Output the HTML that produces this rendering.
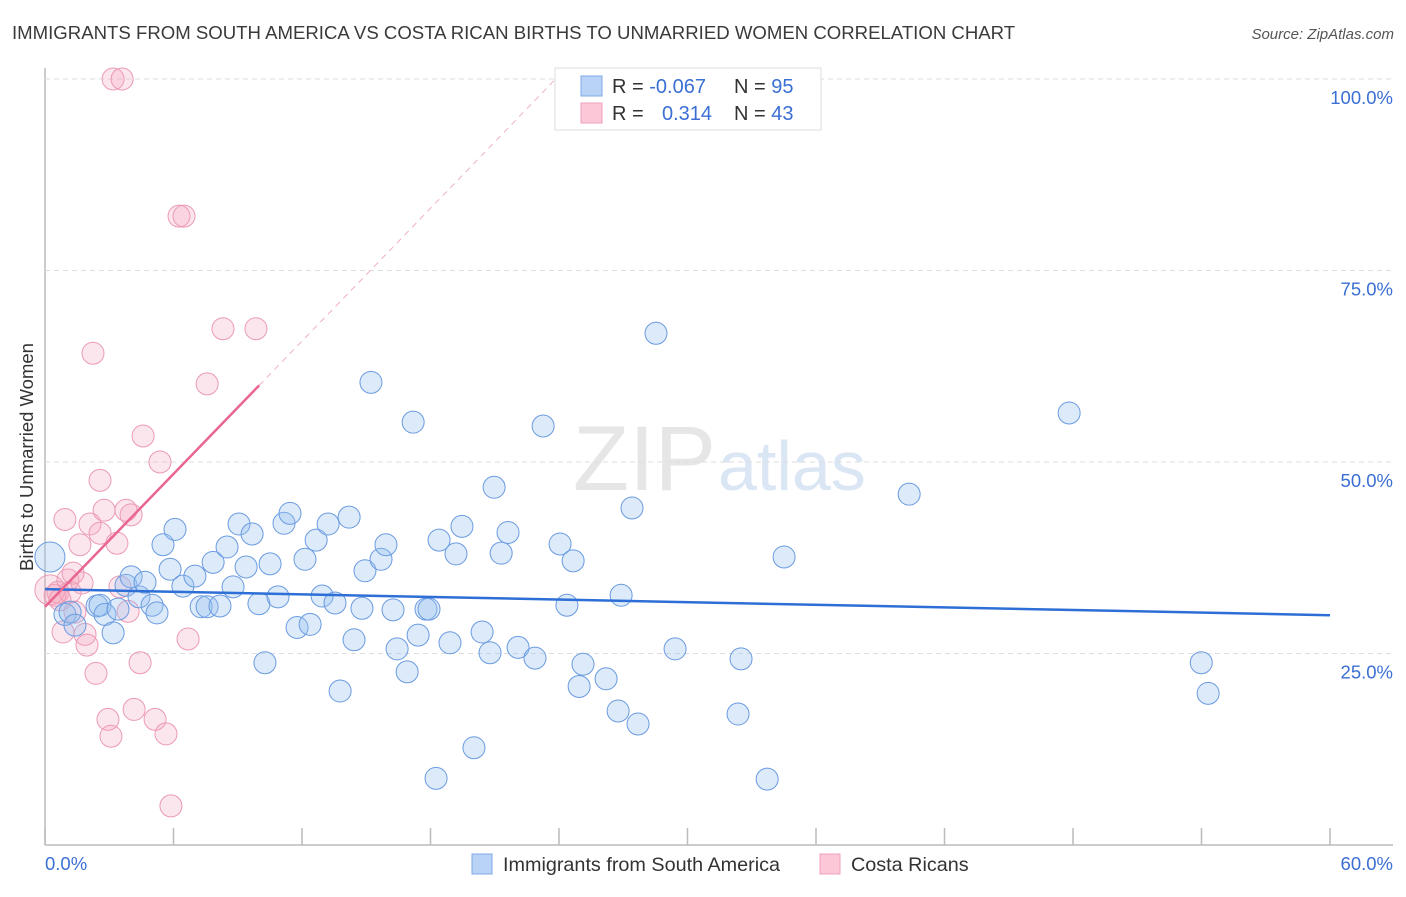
<!DOCTYPE html>
<html><head><meta charset="utf-8"><style>
body{margin:0;background:#fff;font-family:"Liberation Sans",sans-serif}
svg text{font-family:"Liberation Sans",sans-serif}
</style></head><body>
<svg id="c" width="1406" height="892">
<text x="12" y="39" font-size="18.6" fill="#3a3a3a">IMMIGRANTS FROM SOUTH AMERICA VS COSTA RICAN BIRTHS TO UNMARRIED WOMEN CORRELATION CHART</text>
<text x="1394" y="39" font-size="15" fill="#555" font-style="italic" text-anchor="end">Source: ZipAtlas.com</text>
<text x="33" y="457" font-size="18.5" fill="#333" text-anchor="middle" transform="rotate(-90 33 457)">Births to Unmarried Women</text>
<text x="716" y="490" font-size="92" fill="#e6e6e6" text-anchor="end" font-family="Liberation Serif">ZIP</text>
<text x="718" y="490" font-size="70" fill="#dbe6f5">atlas</text>
<g id="grid"></g><g id="pts"></g><g id="lines"></g>
<g>
<rect x="555" y="68" width="266" height="62" fill="#fff" stroke="#ddd"/>
<rect x="581" y="76" width="21" height="20" fill="#b8d3f5" stroke="#7fa9e6"/>
<rect x="581" y="103" width="21" height="20" fill="#fcc8d8" stroke="#f0a0bb"/>
<text x="612" y="93" font-size="20" fill="#333">R = <tspan fill="#3b6fd4">-0.067</tspan></text>
<text x="734" y="93" font-size="20" fill="#333">N = <tspan fill="#3b6fd4">95</tspan></text>
<text x="612" y="120" font-size="20" fill="#333">R = </text>
<text x="662" y="120" font-size="20" fill="#3b6fd4">0.314</text>
<text x="734" y="120" font-size="20" fill="#333">N = <tspan fill="#3b6fd4">43</tspan></text>
</g>
<g>
<rect x="472" y="854" width="20" height="20" fill="#b8d3f5" stroke="#7fa9e6"/>
<text x="503" y="871" font-size="19.8" fill="#333">Immigrants from South America</text>
<rect x="820" y="854" width="20" height="20" fill="#fcc8d8" stroke="#f0a0bb"/>
<text x="851" y="871" font-size="19.8" fill="#333">Costa Ricans</text>
</g>
</svg>
<script>
const xTicks=[0,6,12,18,24,30,36,42,48,54,60];
const yTicks=[25,50,75,100];
const yTickLabels=["25.0%","50.0%","75.0%","100.0%"];
const xEndLabels=["0.0%","60.0%"];
const blueX=[0.23,0.93,1.17,1.40,2.43,2.57,2.80,3.18,3.41,3.78,4.02,4.39,4.67,5.00,5.23,5.51,5.84,6.07,6.44,7.00,7.29,7.57,7.85,8.17,8.50,8.78,9.06,9.39,9.67,9.99,10.27,10.51,10.88,11.16,11.44,11.77,12.14,12.38,12.66,12.94,13.22,13.54,13.78,14.20,14.43,14.80,14.94,15.22,15.69,15.92,16.25,16.44,16.91,17.19,17.42,17.79,17.93,18.26,18.40,18.91,19.19,19.47,20.03,20.41,20.78,20.97,21.30,21.62,22.09,22.88,23.26,24.05,24.37,24.66,24.94,25.12,26.20,26.76,26.90,27.41,27.69,28.53,29.42,32.36,32.50,33.72,34.51,40.35,47.82,53.99,54.31];
const blueY=[37.6,30.1,30.4,28.7,31.2,31.3,30.1,27.7,30.8,33.9,35.0,32.4,34.3,31.3,30.3,39.2,36.0,41.2,33.8,35.1,31.1,31.1,36.9,31.2,38.9,33.7,41.9,36.3,40.6,31.5,23.8,36.7,32.4,42.0,43.3,28.4,37.3,28.8,39.8,32.5,41.9,31.6,20.1,42.8,26.8,30.9,35.8,60.4,37.3,39.2,30.7,25.6,22.6,55.2,27.4,30.8,30.8,8.7,39.8,26.4,38.0,41.6,12.7,27.8,25.1,46.7,38.1,40.8,25.8,24.4,54.7,39.3,31.3,37.1,20.7,23.6,21.7,17.5,32.6,44.0,15.8,66.8,25.6,17.1,24.3,8.6,37.6,45.8,56.4,23.8,19.8];
const pinkX=[0.23,0.47,0.61,0.70,0.84,0.93,1.07,1.17,1.31,1.40,1.63,1.73,1.87,1.96,2.10,2.24,2.38,2.57,2.57,2.76,2.94,3.08,3.18,3.36,3.50,3.60,3.78,3.88,4.02,4.16,4.44,4.58,5.14,5.37,5.65,5.88,6.26,6.49,6.68,7.57,8.31,9.85];
const pinkY=[33.3,32.6,33.0,32.0,27.8,42.5,34.6,33.0,35.5,30.4,39.2,34.2,27.5,26.1,41.9,64.2,22.4,40.7,47.6,43.7,16.4,14.2,100,39.4,33.7,100,43.7,30.5,43.1,17.7,23.8,53.4,16.4,50.0,14.5,5.1,82.1,82.1,26.9,60.2,67.4,67.4];
const blueTrend=[33.4,30.0];
const pinkTrend=[31.1,2.89];
const sx=v=>45+v/60*1285, sy=v=>845-v/100*766;
const NS="http://www.w3.org/2000/svg";
function mk(t,a,p){const e=document.createElementNS(NS,t);for(const k in a)e.setAttribute(k,a[k]);p.appendChild(e);return e;}
const g=document.getElementById('grid');
mk('line',{x1:45,y1:68,x2:45,y2:845,stroke:'#bbb','stroke-width':1.5},g);
mk('line',{x1:45,y1:845,x2:1393,y2:845,stroke:'#bbb','stroke-width':1.5},g);
yTicks.forEach((t,i)=>{
 const l=mk('line',{x1:45,y1:sy(t),x2:1393,y2:sy(t),stroke:'#ddd','stroke-dasharray':'5,4'},g);
 
 
 const tx=mk('text',{x:1393,y:sy(t)+25,'font-size':18.5,fill:'#3b6fd4','text-anchor':'end'},g);
 tx.textContent=yTickLabels[i];
 
 
});
xTicks.forEach(t=>{
 const l=mk('line',{x1:sx(t),y1:828,x2:sx(t),y2:845,stroke:'#bbb','stroke-width':1.5},g);
 
 
});
const xl=mk('text',{x:45,y:870,'font-size':18.5,fill:'#3b6fd4'},g);xl.textContent=xEndLabels[0];


const xr=mk('text',{x:1393,y:870,'font-size':18.5,fill:'#3b6fd4','text-anchor':'end'},g);xr.textContent=xEndLabels[1];


const P=document.getElementById('pts');
pinkX.forEach((x,i)=>{
 const c=mk('circle',{cx:sx(x),cy:sy(pinkY[i]),r:i==0?15:11,fill:'rgba(244,165,192,0.28)',stroke:'#eb9ab5','stroke-width':1},P);
 
 
});
blueX.forEach((x,i)=>{
 const c=mk('circle',{cx:sx(x),cy:sy(blueY[i]),r:i==0?15:11,fill:'rgba(150,190,240,0.33)',stroke:'#6b9be0','stroke-width':1},P);
 
 
});
const L=document.getElementById('lines');
const bl=mk('line',{x1:sx(0),y1:sy(blueTrend[0]),x2:sx(60),y2:sy(blueTrend[1]),stroke:'#2d6fd6','stroke-width':2.5},L);


const pEnd=10, pFull=(100-pinkTrend[0])/pinkTrend[1];
const pl=mk('line',{x1:sx(0),y1:sy(pinkTrend[0]),x2:sx(pEnd),y2:sy(pinkTrend[0]+pinkTrend[1]*pEnd),stroke:'#e8668f','stroke-width':2.5},L);


const pd=mk('line',{x1:sx(pEnd),y1:sy(pinkTrend[0]+pinkTrend[1]*pEnd),x2:sx(pFull),y2:sy(100),stroke:'#f0b0c4','stroke-width':1,'stroke-dasharray':'6,5'},L);


</script>
</body></html>
